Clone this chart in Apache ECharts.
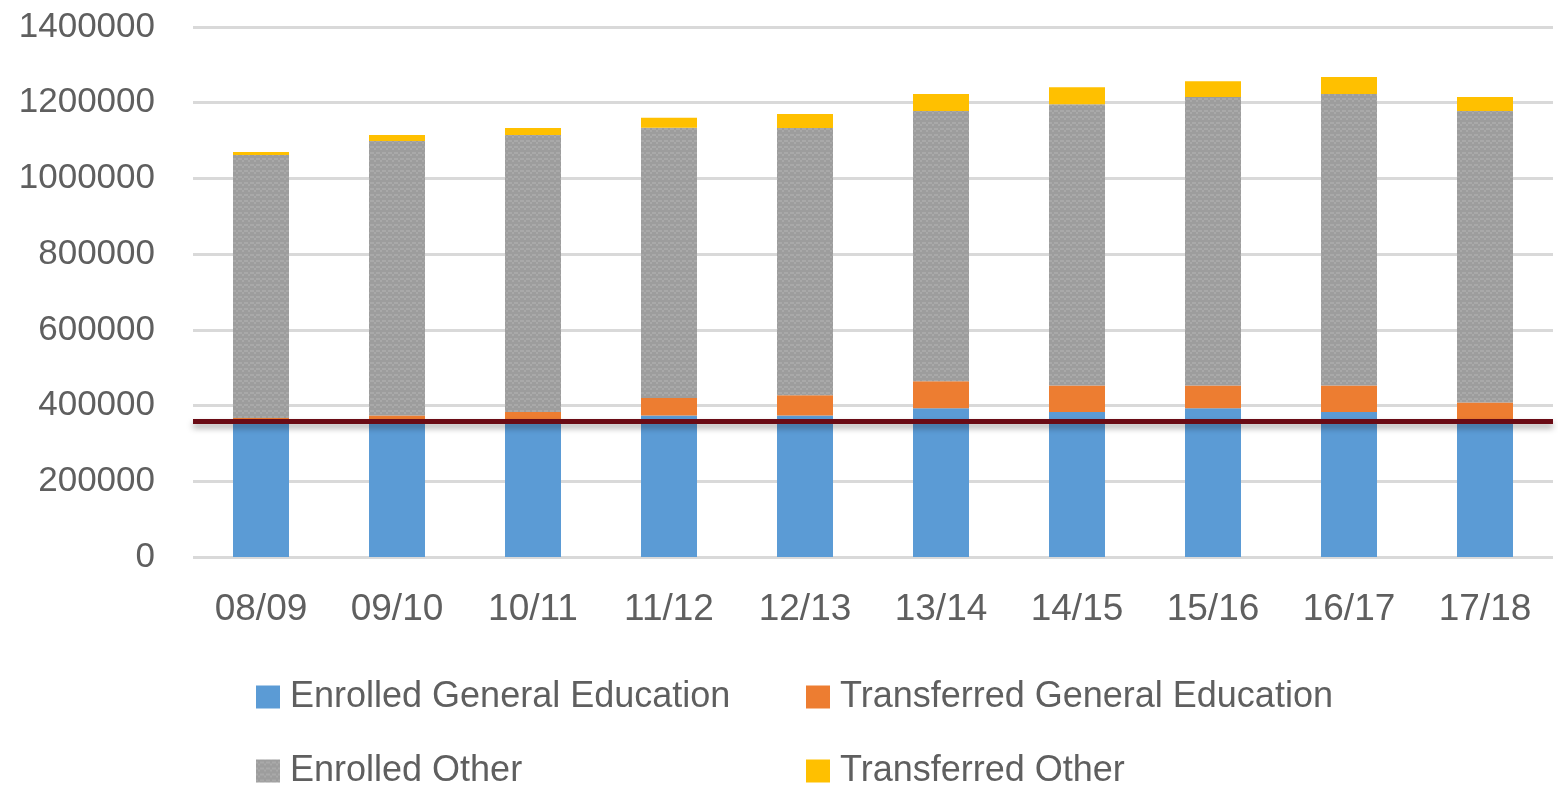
<!DOCTYPE html>
<html>
<head>
<meta charset="utf-8">
<script src="https://cdn.jsdelivr.net/npm/echarts@6/dist/echarts.min.js"></script>
<style>
  html, body { margin: 0; padding: 0; background: #fff; }
  #main { width: 1558px; height: 789px; }
</style>
</head>
<body>
<div id="main"></div>
<script>
// school years
var years = ["08/09", "09/10", "10/11", "11/12", "12/13", "13/14", "14/15", "15/16", "16/17", "17/18"];
// values
var enrolledGeneral = [362000, 360000, 360000, 374000, 374000, 393000, 383000, 393000, 383000, 362000];
var transferredGeneral = [5000, 14000, 23000, 46000, 53000, 71000, 70000, 60000, 70000, 46000];
var enrolledOther = [695000, 725000, 732000, 714000, 706000, 714000, 743000, 762000, 770000, 770000];
var transferredOther = [8000, 16000, 18000, 26000, 37000, 45000, 45000, 42000, 45000, 37000];
var yTicks = [0, 200000, 400000, 600000, 800000, 1000000, 1200000, 1400000];
var thresholdValue = 358000;

var txt = "#5f5f5f";
var font = "Liberation Sans";

// grey pattern fill like the excel chart
function greyPattern() {
  var c = document.createElement("canvas");
  c.width = 6;
  c.height = 6;
  var ctx = c.getContext("2d");
  ctx.fillStyle = "#a9a9a9";
  ctx.fillRect(0, 0, 6, 6);
  ctx.fillStyle = "#9d9d9d";
  var cells = [[0, 0], [4, 0], [2, 2], [0, 4], [4, 4], [2, 0]];
  cells.forEach(function (p) {
    ctx.fillRect(p[0], p[1], 2, 2);
  });
  return c;
}

var myChart = echarts.init(document.getElementById("main"));

function legendFor(name, left, top) {
  return {
    data: [name],
    left: left,
    top: top,
    padding: 0,
    itemWidth: 24,
    itemHeight: 23,
    icon: "rect",
    textStyle: {
      color: txt,
      fontSize: 36,
      fontFamily: font,
      padding: [0, 0, 0, 5]
    }
  };
}

var option = {
  animation: false,
  backgroundColor: "#ffffff",
  grid: {
    left: 193,
    right: 5,
    top: 27,
    bottom: 232,
    outerBoundsMode: "none"
  },
  legend: [
    legendFor("Enrolled General Education", 256, 679),
    legendFor("Transferred General Education", 806, 679),
    legendFor("Enrolled Other", 256, 753),
    legendFor("Transferred Other", 806, 753)
  ],
  xAxis: {
    type: "category",
    data: years,
    axisLine: { show: false },
    axisTick: { show: false },
    axisLabel: {
      color: txt,
      fontSize: 37,
      fontFamily: font,
      margin: 34
    }
  },
  yAxis: {
    type: "value",
    min: yTicks[0],
    max: yTicks[yTicks.length - 1],
    interval: yTicks[1] - yTicks[0],
    axisLine: { show: false },
    axisTick: { show: false },
    axisLabel: {
      color: txt,
      fontSize: 35,
      fontFamily: font,
      margin: 38,
      formatter: function (v) {
        return String(v);
      }
    },
    splitLine: {
      lineStyle: {
        color: "#d9d9d9",
        width: 3
      }
    }
  },
  series: [
    {
      name: "Enrolled General Education",
      type: "bar",
      stack: "total",
      barWidth: 56,
      data: enrolledGeneral,
      itemStyle: { color: "#5b9bd5" },
      markLine: {
        silent: true,
        symbol: "none",
        label: { show: false },
        lineStyle: {
          color: "#6a0b15",
          width: 5,
          type: "solid",
          shadowColor: "rgba(0,0,0,0.35)",
          shadowBlur: 6,
          shadowOffsetY: 4
        },
        data: [{ yAxis: thresholdValue }]
      },
      z: 2
    },
    {
      name: "Transferred General Education",
      type: "bar",
      stack: "total",
      data: transferredGeneral,
      itemStyle: { color: "#ed7d31" }
    },
    {
      name: "Enrolled Other",
      type: "bar",
      stack: "total",
      data: enrolledOther,
      itemStyle: { color: { image: greyPattern(), repeat: "repeat" } }
    },
    {
      name: "Transferred Other",
      type: "bar",
      stack: "total",
      data: transferredOther,
      itemStyle: { color: "#ffc000" }
    }
  ]
};

myChart.setOption(option);
</script>
</body>
</html>
